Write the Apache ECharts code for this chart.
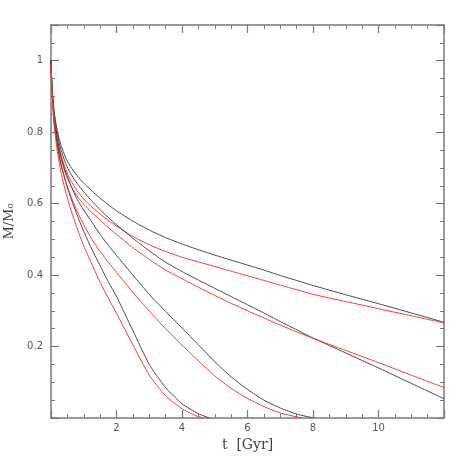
<!DOCTYPE html>
<html>
<head>
<meta charset="utf-8">
<script src="https://cdn.jsdelivr.net/npm/echarts@6/dist/echarts.min.js"></script>
<style>
  html, body { margin: 0; padding: 0; background: #fff; }
  #chart { width: 469px; height: 469px; }
</style>
</head>
<body>
<div id="chart"></div>
<script>
// time grid (Gyr) shared by the two long-lived pairs
const tLong = [0, 0.02, 0.05, 0.1, 0.2, 0.3, 0.45, 0.6, 0.8, 1, 1.25, 1.5, 1.75, 2,
  2.5, 3, 3.5, 4, 4.5, 5, 5.5, 6, 6.5, 7, 7.5, 8, 9, 10, 11, 12]

const p4Black = [1.0, 0.95, 0.905, 0.855, 0.80, 0.765, 0.728, 0.703, 0.678, 0.657,
  0.636, 0.615, 0.597, 0.580, 0.551, 0.526, 0.505, 0.487, 0.471, 0.456, 0.442, 0.428,
  0.414, 0.399, 0.385, 0.371, 0.345, 0.320, 0.294, 0.268]
const p4Red = [0.99, 0.94, 0.895, 0.84, 0.778, 0.738, 0.695, 0.665, 0.636, 0.613,
  0.59, 0.571, 0.553, 0.537, 0.508, 0.485, 0.466, 0.450, 0.437, 0.424, 0.411, 0.398,
  0.385, 0.372, 0.359, 0.346, 0.326, 0.306, 0.286, 0.266]
const p3Black = [1.0, 0.948, 0.90, 0.848, 0.79, 0.752, 0.712, 0.684, 0.656, 0.633,
  0.607, 0.583, 0.561, 0.541, 0.503, 0.468, 0.436, 0.410, 0.386, 0.363, 0.340, 0.317,
  0.294, 0.270, 0.247, 0.224, 0.182, 0.140, 0.097, 0.054]
const p3Red = [0.99, 0.938, 0.89, 0.832, 0.768, 0.726, 0.682, 0.651, 0.621, 0.598,
  0.575, 0.554, 0.533, 0.514, 0.477, 0.444, 0.414, 0.390, 0.366, 0.343, 0.321, 0.300,
  0.280, 0.260, 0.241, 0.223, 0.189, 0.155, 0.120, 0.085]

const tP2Black = [0, 0.02, 0.05, 0.1, 0.2, 0.3, 0.45, 0.6, 0.8, 1, 1.25, 1.5, 1.75, 2,
  2.5, 3, 3.5, 4, 4.5, 5, 5.5, 6, 6.5, 7, 7.5, 8.02]
const p2Black = [1.0, 0.945, 0.895, 0.84, 0.776, 0.733, 0.688, 0.652, 0.612, 0.582,
  0.548, 0.514, 0.483, 0.455, 0.400, 0.346, 0.298, 0.252, 0.205, 0.158, 0.115, 0.080,
  0.050, 0.028, 0.011, 0.0]
const tP2Red = [0, 0.02, 0.05, 0.1, 0.2, 0.3, 0.45, 0.6, 0.8, 1, 1.25, 1.5, 1.75, 2,
  2.5, 3, 3.5, 4, 4.5, 5, 5.5, 6, 6.5, 7, 7.66]
const p2Red = [0.99, 0.935, 0.885, 0.827, 0.76, 0.713, 0.662, 0.622, 0.578, 0.541,
  0.500, 0.466, 0.436, 0.408, 0.352, 0.299, 0.250, 0.204, 0.160, 0.118, 0.083, 0.055,
  0.032, 0.014, 0.0]

const tP1Black = [0, 0.02, 0.05, 0.1, 0.2, 0.3, 0.45, 0.6, 0.8, 1, 1.25, 1.5, 1.75, 2,
  2.5, 3, 3.5, 4, 4.5, 4.84]
const p1Black = [1.0, 0.94, 0.888, 0.83, 0.762, 0.712, 0.66, 0.617, 0.568, 0.522,
  0.472, 0.426, 0.381, 0.340, 0.245, 0.150, 0.085, 0.040, 0.012, 0.0]
const tP1Red = [0, 0.02, 0.05, 0.1, 0.2, 0.3, 0.45, 0.6, 0.8, 1, 1.25, 1.5, 1.75, 2,
  2.5, 3, 3.5, 4, 4.4, 4.66]
const p1Red = [0.99, 0.93, 0.878, 0.815, 0.742, 0.69, 0.632, 0.585, 0.53, 0.482,
  0.43, 0.38, 0.335, 0.293, 0.205, 0.12, 0.062, 0.026, 0.007, 0.0]

const xTickLabels = ['2', '4', '6', '8', '10']
const yTickLabels = ['0.2', '0.4', '0.6', '0.8', '1']

const BLACK = '#4a4a4a'
const RED = '#ff3838'
const AXIS = '#7a7a7a'

const zip = (ts, ys) => ts.map((t, i) => [t, ys[i]])

const curves = [
  { t: tLong, y: p4Black, color: BLACK },
  { t: tLong, y: p4Red, color: RED },
  { t: tLong, y: p3Black, color: BLACK },
  { t: tLong, y: p3Red, color: RED },
  { t: tP2Black, y: p2Black, color: BLACK },
  { t: tP2Red, y: p2Red, color: RED },
  { t: tP1Black, y: p1Black, color: BLACK },
  { t: tP1Red, y: p1Red, color: RED }
]

const chart = echarts.init(document.getElementById('chart'), null, { renderer: 'canvas' })

const tickStyle = {
  axisLine: { show: true, onZero: false, lineStyle: { color: AXIS, width: 1.5 } },
  axisTick: { show: true, inside: true, length: 8, lineStyle: { color: AXIS, width: 1.2 } },
  minorTick: { show: true, splitNumber: 4, length: 4, lineStyle: { color: AXIS, width: 1 } },
  splitLine: { show: false }
}

const xLabel = v => {
  const s = String(Math.round(v * 100) / 100)
  return xTickLabels.includes(s) ? s : ''
}
const yLabel = v => {
  const s = String(Math.round(v * 100) / 100)
  return yTickLabels.includes(s) ? s : ''
}

chart.setOption({
  animation: false,
  backgroundColor: '#fff',
  grid: { left: 51, right: 25, top: 25, bottom: 51, outerBoundsMode: 'none', containLabel: false },
  xAxis: [
    {
      type: 'value', position: 'bottom', min: 0, max: 12, interval: 2,
      ...tickStyle,
      axisLabel: {
        color: '#555', fontFamily: 'DejaVu Sans', fontSize: 10, margin: 5,
        formatter: xLabel
      },
      name: 't  [Gyr]', nameLocation: 'middle', nameGap: 20,
      nameTextStyle: { color: '#444', fontFamily: 'DejaVu Serif', fontSize: 14 }
    },
    {
      type: 'value', position: 'top', min: 0, max: 12, interval: 2,
      ...tickStyle,
      axisLabel: { show: false }
    }
  ],
  yAxis: [
    {
      type: 'value', position: 'left', min: 0, max: 1.1, interval: 0.2,
      ...tickStyle,
      axisLabel: {
        color: '#555', fontFamily: 'DejaVu Sans', fontSize: 10, margin: 8,
        formatter: yLabel
      },
      name: 'M/M₀', nameLocation: 'middle', nameGap: 32, nameRotate: 90,
      nameTextStyle: { color: '#444', fontFamily: 'DejaVu Serif', fontSize: 13 }
    },
    {
      type: 'value', position: 'right', min: 0, max: 1.1, interval: 0.2,
      ...tickStyle,
      axisLabel: { show: false }
    }
  ],
  series: curves.map(c => ({
    type: 'line',
    data: zip(c.t, c.y),
    showSymbol: false,
    smooth: 0.2,
    lineStyle: { color: c.color, width: 1 },
    emphasis: { disabled: true }
  }))
})
</script>
</body>
</html>
